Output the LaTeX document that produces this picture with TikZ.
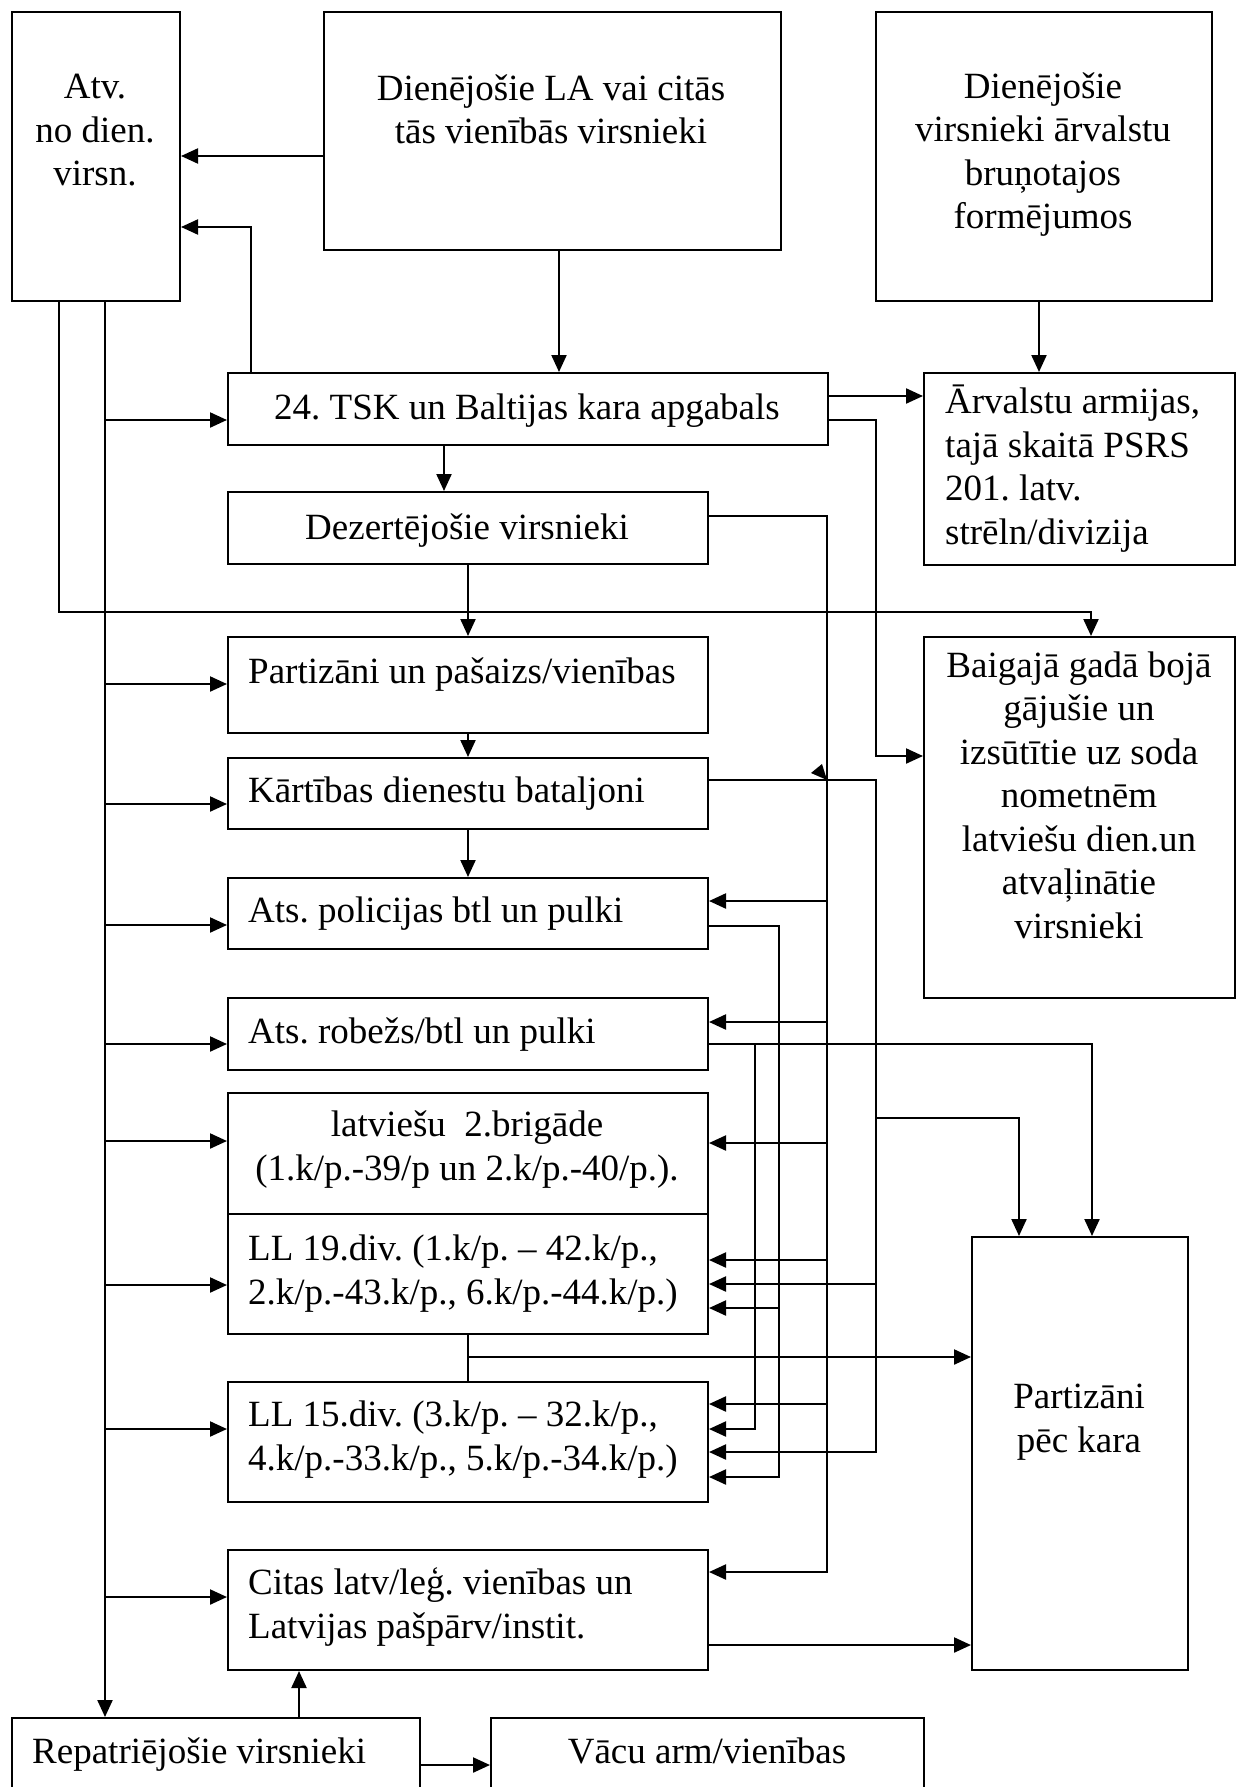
\documentclass[tikz,border=0pt]{standalone}
\usepackage{fontspec}
\setmainfont{Liberation Serif}
\usetikzlibrary{positioning, arrows.meta}

\tikzset{
  box/.style={draw, line width=2pt, rectangle, inner sep=0pt, anchor=north west},
  txt/.style={font=\fontsize{37}{43.5}\selectfont\frenchspacing, inner sep=0pt, align=center, anchor=base},
  ltxt/.style={txt, align=left, anchor=base west},
  ln/.style={line width=2.2pt},
  arr/.style={ln, -{Triangle[length=17pt, width=15pt]}}
}

\begin{document}
\begin{tikzpicture}[x=1pt, y=-1pt]
\useasboundingbox (0,0) rectangle (1236,1787);
\clip (0,0) rectangle (1236,1787);

% boxes
\node[box, minimum width=168pt, minimum height=289pt] (atv) at (11,11) {};
\node[box, minimum width=457pt, minimum height=238pt] (dienla) at (323,11) {};
\node[box, minimum width=336pt, minimum height=289pt] (dienarv) at (875,11) {};
\node[box, minimum width=600pt, minimum height=72pt] (tsk) at (227,372) {};
\node[box, minimum width=311pt, minimum height=192pt] (arv) at (923,372) {};
\node[box, minimum width=480pt, minimum height=72pt] (dez) at (227,491) {};
\node[box, minimum width=480pt, minimum height=96pt] (parti) at (227,636) {};
\node[box, minimum width=311pt, minimum height=361pt] (baig) at (923,636) {};
\node[box, minimum width=480pt, minimum height=71pt] (kart) at (227,757) {};
\node[box, minimum width=480pt, minimum height=71pt] (pol) at (227,877) {};
\node[box, minimum width=480pt, minimum height=72pt] (rob) at (227,997) {};
\node[box, minimum width=480pt, minimum height=121pt] (brig) at (227,1092) {};
\node[box, minimum width=480pt, minimum height=120pt] (ll19) at (227,1213) {};
\node[box, minimum width=480pt, minimum height=120pt] (ll15) at (227,1381) {};
\node[box, minimum width=480pt, minimum height=120pt] (citas) at (227,1549) {};
\node[box, minimum width=216pt, minimum height=433pt] (pkara) at (971,1236) {};
\node[box, minimum width=408pt, minimum height=90pt] (repatr) at (11,1717) {};
\node[box, minimum width=433pt, minimum height=90pt] (vacu) at (490,1717) {};

% texts (base = last line)
\node[txt] (atvT) at (95,186) {Atv.\\no dien.\\virsn.};
\node[txt] (dienlaT) at (551,144) {Dienējošie LA vai citās\\tās vienībās virsnieki};
\node[txt] (dienarvT) at (1043,229) {Dienējošie\\virsnieki ārvalstu\\bruņotajos\\formējumos};
\node[txt] (tskT) at (527,419) {24. TSK un Baltijas kara apgabals};
\node[ltxt] (arvT) at (945,544) {Ārvalstu armijas,\\tajā skaitā PSRS\\201. latv.\\strēln/divizija};
\node[txt] (dezT) at (467,539) {Dezertējošie virsnieki};
\node[ltxt] (partiT) at (248,683) {Partizāni un pašaizs/vienības};
\node[txt] (baigT) at (1079,938) {Baigajā gadā bojā\\gājušie un\\izsūtītie uz soda\\nometnēm\\latviešu dien.un\\atvaļinātie\\virsnieki};
\node[ltxt] (kartT) at (248,802) {Kārtības dienestu bataljoni};
\node[ltxt] (polT) at (248,922) {Ats. policijas btl un pulki};
\node[ltxt] (robT) at (248,1043) {Ats. robežs/btl un pulki};
\node[txt] (brigT) at (467,1180) {latviešu\ \ 2.brigāde\\(1.k/p.-39/p un 2.k/p.-40/p.).};
\node[ltxt] (ll19T) at (248,1304) {LL 19.div. (1.k/p. – 42.k/p.,\\2.k/p.-43.k/p., 6.k/p.-44.k/p.)};
\node[ltxt] (ll15T) at (248,1470) {LL 15.div. (3.k/p. – 32.k/p.,\\4.k/p.-33.k/p., 5.k/p.-34.k/p.)};
\node[ltxt] (citasT) at (248,1638) {Citas latv/leģ. vienības un\\Latvijas pašpārv/instit.};
\node[txt] (pkaraT) at (1079,1452) {Partizāni\\pēc kara};
\node[ltxt] (repatrT) at (32,1763) {Repatriējošie virsnieki};
\node[txt] (vacuT) at (707,1763) {Vācu arm/vienības};

% top part
\draw[arr] (dienla.west |- 0,156) -- (atv.east |- 0,156);
\draw[arr] (tsk.north -| 251,0) |- (atv.east |- 0,227);
\draw[arr] (dienla.south -| 559,0) -- (tsk.north -| 559,0);
\draw[arr] (dienarv.south -| 1039,0) -- (arv.north -| 1039,0);
\draw[arr] (tsk.east |- 0,396) -- (arv.west |- 0,396);
\draw[arr] (tsk.east |- 0,420) -| (876,756) -- (baig.west |- 0,756);
\draw[arr] (tsk.south -| 444,0) -- (dez.north -| 444,0);
\draw[arr] (dez.south -| 468,0) -- (parti.north -| 468,0);
\draw[arr] (parti.south -| 468,0) -- (kart.north -| 468,0);
\draw[arr] (kart.south -| 468,0) -- (pol.north -| 468,0);

% left bus
\draw[arr] (atv.south -| 59,0) -- (59,612) -- (1091,612) -- (baig.north -| 1091,0);
\draw[arr] (atv.south -| 105,0) -- (repatr.north -| 105,0);
\foreach \n/\y in {tsk/420, parti/684, kart/804, pol/925, rob/1044, brig/1141, ll19/1285, ll15/1429, citas/1597}
  \draw[arr] (105,\y) -- (\n.west |- 0,\y);

% right buses
\draw[arr] (dez.east |- 0,516) -| (827,1572) -- (citas.east |- 0,1572);
\foreach \n/\y in {pol/901, rob/1022, brig/1143, ll19/1260, ll15/1404}
  \draw[arr] (827,\y) -- (\n.east |- 0,\y);
\fill (811,773) -- (822,764) -- (827,780) -- cycle;

\draw[arr] (kart.east |- 0,780) -| (876,1452) -- (ll15.east |- 0,1452);
\draw[arr] (876,1284) -- (ll19.east |- 0,1284);
\draw[arr] (876,1118) -| (pkara.north -| 1019,0);

\draw[arr] (pol.east |- 0,926) -| (779,1477) -- (ll15.east |- 0,1477);
\draw[arr] (779,1308) -- (ll19.east |- 0,1308);

\draw[arr] (rob.east |- 0,1044) -| (pkara.north -| 1092,0);
\draw[arr] (755,1044) |- (ll15.east |- 0,1429);

% lower part
\draw[ln] (ll19.south -| 468,0) -- (ll15.north -| 468,0);
\draw[arr] (468,1357) -- (pkara.west |- 0,1357);
\draw[arr] (citas.east |- 0,1645) -- (pkara.west |- 0,1645);
\draw[arr] (repatr.north -| 299,0) -- (citas.south -| 299,0);
\draw[arr] (repatr.east |- 0,1765) -- (vacu.west |- 0,1765);
\end{tikzpicture}
\end{document}
